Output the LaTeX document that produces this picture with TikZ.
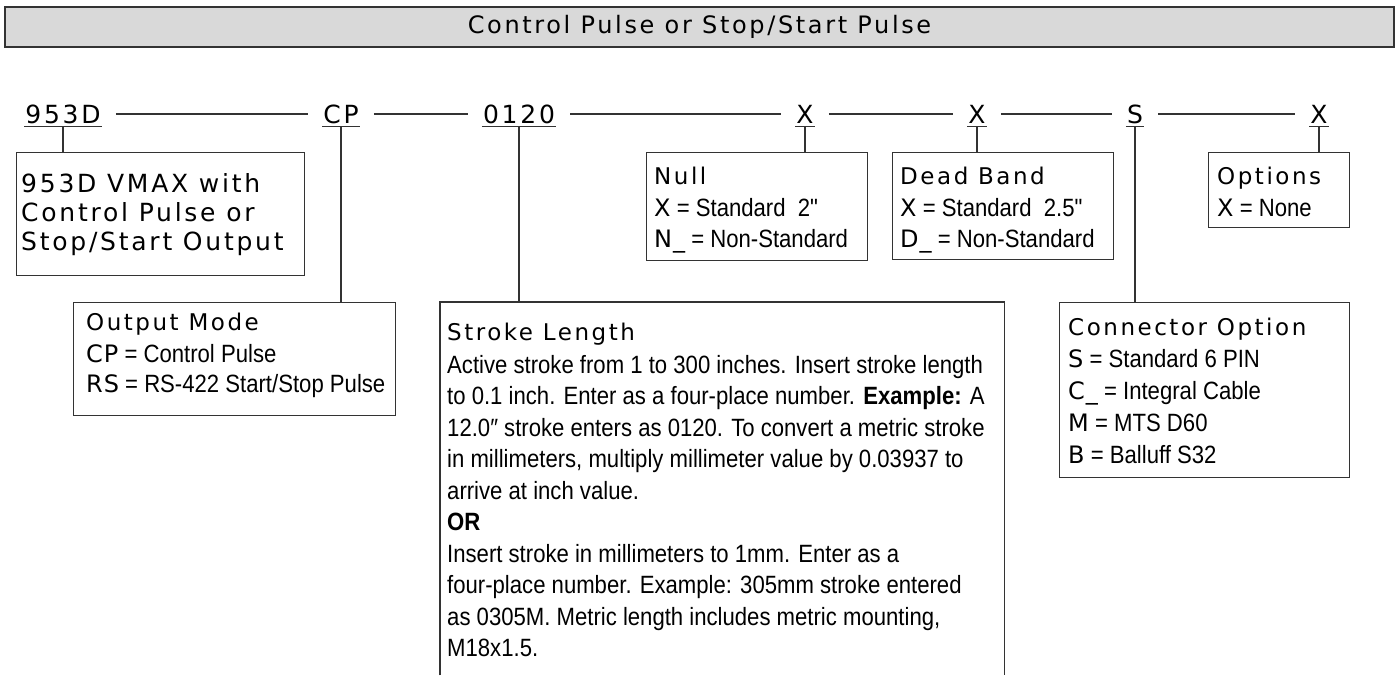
\documentclass[tikz,border=0pt]{standalone}
\usepackage{fontspec}
\newfontfamily\headfont[LetterSpace=11]{DejaVu Sans}
\newfontfamily\keyfont[LetterSpace=4]{DejaVu Sans}
\newfontfamily\bodyfont[FakeStretch=0.885]{Liberation Sans}
\usetikzlibrary{positioning}
\definecolor{barfill}{HTML}{D9D9D9}
\definecolor{linegray}{HTML}{333333}
\newcommand{\optkey}[1]{{\keyfont\fontsize{24}{30}\selectfont #1}}

\begin{document}
\begin{tikzpicture}[x=1pt, y=-1pt,
  bar/.style={draw=linegray, line width=1.3pt, fill=barfill, minimum width=1389pt, minimum height=40pt, inner sep=0pt,
    font=\headfont\fontsize{24}{28}\selectfont},
  code/.style={font=\headfont\fontsize{25}{30}\selectfont, inner xsep=1pt, inner ysep=3pt, text height=18.5pt, text depth=0pt},
  box/.style={draw=linegray, line width=1.3pt, anchor=north west, inner sep=0pt},
  head/.style={font=\headfont\fontsize{23}{30}\selectfont, anchor=base west, inner sep=0pt},
  body/.style={font=\bodyfont\fontsize{25}{31}\selectfont, anchor=base west, inner sep=0pt, align=left},
  link/.style={draw=linegray, line width=1.3pt},
  gap/.style={shorten <=14pt, shorten >=14pt}
]
\useasboundingbox (0,0) rectangle (1399,675);

\node[bar] (title) at (699.5,27) {Control Pulse or Stop/Start Pulse};

% model code
\node[code] (c953)  at (63,114)   {953D};
\node[code] (ccp)   at (341,114)  {CP};
\node[code] (c0120) at (519,114)  {0120};
\node[code] (cnull) at (805,114)  {X};
\node[code] (cdead) at (977,114)  {X};
\node[code] (cconn) at (1135,114) {S};
\node[code] (copt)  at (1319,114) {X};

\draw[link, gap] (c953.east)  -- (ccp.west);
\draw[link, gap] (ccp.east)   -- (c0120.west);
\draw[link, gap] (c0120.east) -- (cnull.west);
\draw[link, gap] (cnull.east) -- (cdead.west);
\draw[link, gap] (cdead.east) -- (cconn.west);
\draw[link, gap] (cconn.east) -- (copt.west);
\foreach \c in {c953,ccp,c0120,cnull,cdead,cconn,copt}
  \draw[link] (\c.south west) -- (\c.south east);

% boxes
\node[box, minimum width=288pt, minimum height=123pt] (b953)  at (16,152)   {};
\node[box, minimum width=322pt, minimum height=113pt] (bout)  at (73,302)   {};
\node[box, minimum width=221pt, minimum height=108pt] (bnull) at (646,152)  {};
\node[box, minimum width=221pt, minimum height=107pt] (bdead) at (892,152)  {};
\node[box, minimum width=141pt, minimum height=75pt]  (bopt)  at (1208,152) {};
\node[box, minimum width=290pt, minimum height=175pt] (bconn) at (1059,302) {};
\node[anchor=north west, inner sep=0pt, minimum width=564pt, minimum height=373pt] (bstroke) at (440,302) {};
\draw[link] (bstroke.south west) |- (bstroke.north east) -- (bstroke.south east);

\draw[link] (c953.south)  -- (c953.south |- b953.north);
\draw[link] (ccp.south)   -- (ccp.south |- bout.north);
\draw[link] (c0120.south) -- (c0120.south |- bstroke.north);
\draw[link] (cnull.south) -- (cnull.south |- bnull.north);
\draw[link] (cdead.south) -- (cdead.south |- bdead.north);
\draw[link] (cconn.south) -- (cconn.south |- bconn.north);
\draw[link] (copt.south)  -- (copt.south |- bopt.north);

% box texts (base = last line)
\node[head, font=\headfont\fontsize{25}{29}\selectfont, align=left] (t953) at (21,250)
  {953D VMAX with\\Control Pulse or\\Stop/Start Output};

\node[head] (outhead) at (86,330) {Output Mode};
\node[body, font=\bodyfont\fontsize{25}{30}\selectfont] (outtext) at (86,392)
  {\optkey{CP} = Control Pulse\\\optkey{RS} = RS-422 Start/Stop Pulse};

\node[head] (strokehead) at (447,340) {Stroke Length};
\node[body, font=\bodyfont\fontsize{25}{31.5}\selectfont] (stroketext) at (447,656.5)
  {Active stroke from 1 to 300 inches. Insert stroke length\\
   to 0.1 inch. Enter as a four-place number. \textbf{Example:} A\\
   12.0″ stroke enters as 0120. To convert a metric stroke\\
   in millimeters, multiply millimeter value by 0.03937 to\\
   arrive at inch value.\\
   \textbf{OR}\\
   Insert stroke in millimeters to 1mm. Enter as a\\
   four-place number. Example: 305mm stroke entered\\
   as 0305M. Metric length includes metric mounting,\\
   M18x1.5.};

\node[head] (nullhead) at (654,184) {Null};
\node[body] (nulltext) at (654,247)
  {\optkey{X} = Standard\ \ 2"\\\optkey{N\_} = Non-Standard};

\node[head] (deadhead) at (900,184) {Dead Band};
\node[body] (deadtext) at (900,247)
  {\optkey{X} = Standard\ \ 2.5"\\\optkey{D\_} = Non-Standard};

\node[head] (opthead) at (1217,184) {Options};
\node[body] (opttext) at (1217,216) {\optkey{X} = None};

\node[head] (connhead) at (1068,335) {Connector Option};
\node[body, font=\bodyfont\fontsize{25}{32}\selectfont] (conntext) at (1068,463)
  {\optkey{S} = Standard 6 PIN\\\optkey{C\_} = Integral Cable\\\optkey{M} = MTS D60\\\optkey{B} = Balluff S32};
\end{tikzpicture}
\end{document}
